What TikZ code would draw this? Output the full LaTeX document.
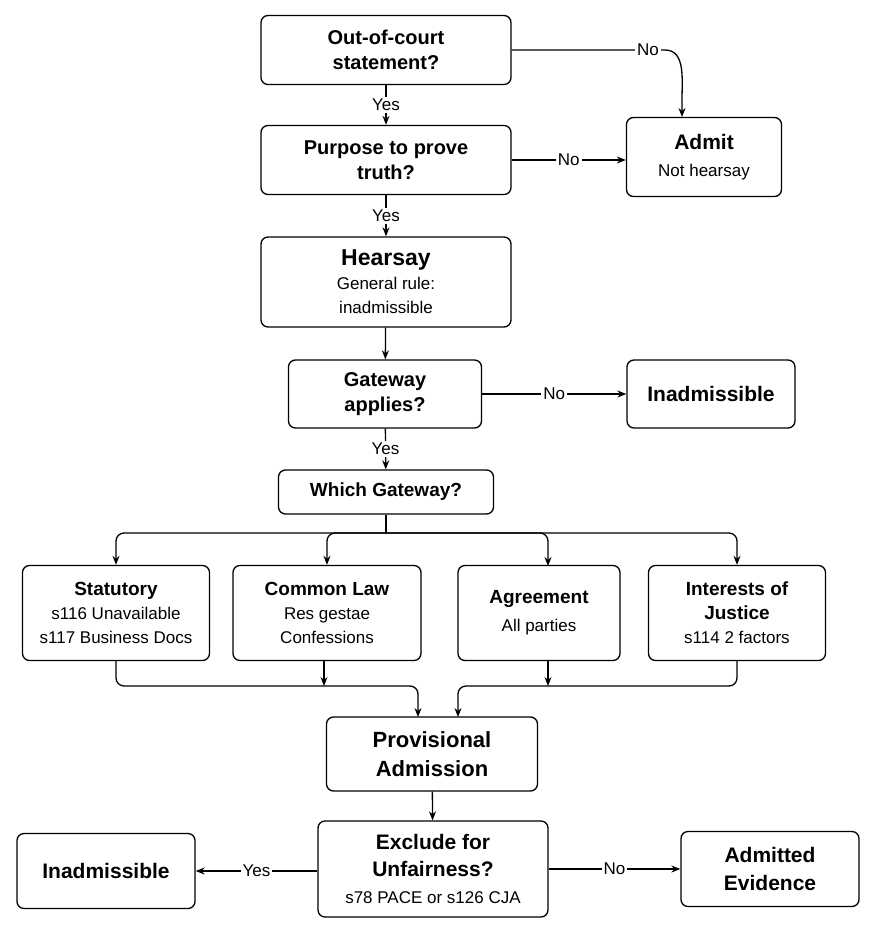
\documentclass[tikz,border=0pt]{standalone}
\usepackage{fontspec}
\setmainfont{Liberation Sans}
\usetikzlibrary{arrows.meta}
\begin{document}
\begin{tikzpicture}[x=1pt,y=-1pt,
  box/.style={draw,line width=1.3pt,rounded corners=7pt,align=center,inner sep=0pt},
  lab/.style={fill=white,inner sep=2pt,font=\fontsize{17}{20}\selectfont},
  arr/.style={line width=1.3pt,-{Stealth[length=9pt,width=7pt]}},
  ln/.style={line width=1.3pt}]
\useasboundingbox (0,0) rectangle (876,946);
\newcommand{\ttl}[2]{{\fontsize{#1}{#1}\selectfont\bfseries #2}}
\newcommand{\bdt}[1]{{\fontsize{17}{17}\selectfont #1}}
\newcommand{\bx}[7]{\node[box,minimum width=#4,minimum height=#5,font=\fontsize{17}{#6}\selectfont] (#1) at (#2,#3) {#7};}
\bx{q1}{386}{50}{250}{69}{25}{\ttl{20}{Out-of-court}\\\ttl{20}{statement?}}
\bx{q2}{386}{160}{250}{69}{25}{\ttl{20}{Purpose to prove}\\\ttl{20}{truth?}}
\bx{adm}{704}{157}{155}{79}{27}{\ttl{21}{Admit}\\\bdt{Not hearsay}}
\bx{hs}{386}{282}{250}{90}{24}{\ttl{23}{Hearsay}\\\bdt{General rule:}\\\bdt{inadmissible}}
\bx{gw}{385}{394}{193}{68}{25}{\ttl{20}{Gateway}\\\ttl{20}{applies?}}
\bx{in1}{711}{394}{168}{68}{25}{\ttl{21}{Inadmissible}}
\bx{wg}{386}{492}{215}{44}{24}{\ttl{19}{Which Gateway?}}
\bx{st}{116}{613}{187}{95}{24}{\ttl{19}{Statutory}\\\bdt{s116 Unavailable}\\\bdt{s117 Business Docs}}
\bx{cl}{327}{613}{188}{95}{24}{\ttl{19}{Common Law}\\\bdt{Res gestae}\\\bdt{Confessions}}
\bx{ag}{539}{613}{162}{95}{28}{\ttl{19}{Agreement}\\\bdt{All parties}}
\bx{ij}{737}{613}{177}{95}{24}{\ttl{19}{Interests of}\\\ttl{19}{Justice}\\\bdt{s114 2 factors}}
\bx{pa}{432}{754}{211}{74}{29}{\ttl{22}{Provisional}\\\ttl{22}{Admission}}
\bx{ex}{433}{869}{230}{96}{27}{\ttl{21}{Exclude for}\\\ttl{21}{Unfairness?}\\\bdt{s78 PACE or s126 CJA}}
\bx{in2}{106}{871}{178}{75}{25}{\ttl{21}{Inadmissible}}
\bx{ae}{770}{869}{178}{75}{28}{\ttl{21}{Admitted}\\\ttl{21}{Evidence}}
% connectors
\draw[arr] (q1.east) -- (665,50) to[out=0,in=90] (682,100) -- (682,117);
\node[lab] at (648,50) {No};
\draw[arr] (q1) -- node[lab]{Yes} (q2);
\draw[arr] (q2.east) -- node[lab,pos=0.5]{No} (adm.west|-q2.east);
\draw[arr] (q2) -- node[lab]{Yes} (hs);
\draw[arr] (hs) -- (gw);
\draw[arr] (gw) -- node[lab]{No} (in1);
\draw[arr] (gw) -- node[lab]{Yes} (wg);
\coordinate (b) at (386,533);
\draw[ln] (wg.south) -- (b);
\draw[arr,rounded corners=8pt] (b) -- (116,533) -- (st.north);
\draw[arr,rounded corners=8pt] (b) -- (327,533) -- (cl.north);
\draw[arr,rounded corners=8pt] (b) -- (548,533) -- (548,566);
\draw[arr,rounded corners=8pt] (b) -- (737,533) -- (ij.north);
\draw[arr,rounded corners=8pt] (st.south) -- (116,686) -- (418,686) -- (418,717);
\draw[arr] (324,661) -- (324,686);
\draw[arr] (548,661) -- (548,686);
\draw[arr,rounded corners=8pt] (ij.south) -- (737,686) -- (458,686) -- (458,717);
\draw[arr] (pa) -- (ex);
\draw[arr] (ex.west|-in2) -- node[lab]{Yes} (in2);
\draw[arr] (ex.east) -- node[lab]{No} (ae);
\end{tikzpicture}
\end{document}
